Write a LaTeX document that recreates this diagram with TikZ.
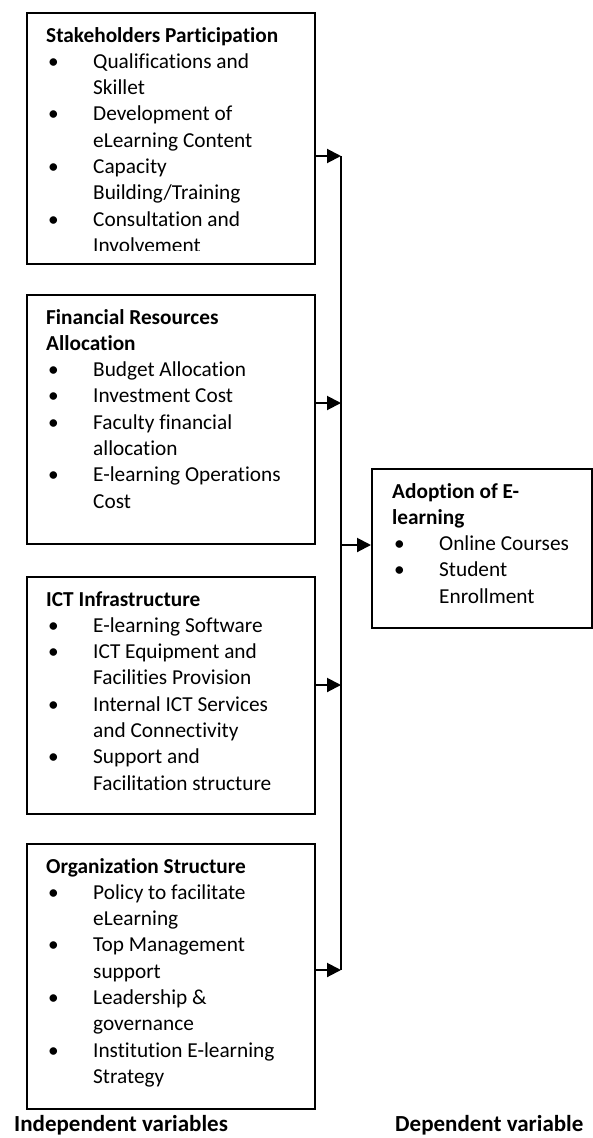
\documentclass[tikz,border=0pt]{standalone}
\usepackage{fontspec}
\setmainfont{Carlito}[Ligatures=NoCommon]
\usetikzlibrary{arrows.meta}
\newcommand{\itm}[1]{\makebox[47pt][l]{\hspace{2pt}\textbullet}#1}
\newcommand{\cnt}[1]{\hspace*{47pt}#1}
\newcommand{\boxtext}[2]{\parbox[t]{#1}{\raggedright\fontsize{21.3}{26.3}\selectfont #2}}
\tikzset{
  varbox/.style={draw=black, line width=1.5pt, anchor=north west, inner sep=0pt},
  boxlabel/.style={anchor=base west, inner sep=0pt},
  arr/.style={line width=2pt, -{Triangle[length=14pt,width=14pt]}},
  mainline/.style={line width=2pt},
  footlabel/.style={anchor=base west, inner sep=0pt, font=\fontsize{23}{26}\selectfont\bfseries}
}
\begin{document}
\begin{tikzpicture}[x=1pt,y=-1pt]
\useasboundingbox (0,0) rectangle (593,1138);
% boxes
\node[varbox, minimum width=288pt, minimum height=251pt] (b1) at (26,12) {};
\node[varbox, minimum width=288pt, minimum height=249pt] (b2) at (26,294) {};
\node[varbox, minimum width=288pt, minimum height=237pt] (b3) at (26,576) {};
\node[varbox, minimum width=288pt, minimum height=265pt] (b4) at (26,843) {};
\node[varbox, minimum width=220pt, minimum height=159pt] (ad) at (371,468) {};
% texts
\begin{scope}
\clip (26,12) rectangle (314,250);
\node[boxlabel] (t1) at (46,42) {\boxtext{265pt}{\textbf{Stakeholders Participation}\\
\itm{Qualifications and}\\ \cnt{Skillet}\\
\itm{Development of}\\ \cnt{eLearning Content}\\
\itm{Capacity}\\ \cnt{Building/Training}\\
\itm{Consultation and}\\ \cnt{Involvement}}};
\end{scope}
\node[boxlabel] (t2) at (46,324) {\boxtext{265pt}{\textbf{Financial Resources}\\ \textbf{Allocation}\\
\itm{Budget Allocation}\\
\itm{Investment Cost}\\
\itm{Faculty financial}\\ \cnt{allocation}\\
\itm{E-learning Operations}\\ \cnt{Cost}}};
\node[boxlabel] (t3) at (46,606) {\boxtext{265pt}{\textbf{ICT Infrastructure}\\
\itm{E-learning Software}\\
\itm{ICT Equipment and}\\ \cnt{Facilities Provision}\\
\itm{Internal ICT Services}\\ \cnt{and Connectivity}\\
\itm{Support and}\\ \cnt{Facilitation structure}}};
\node[boxlabel] (t4) at (46,873) {\boxtext{265pt}{\textbf{Organization Structure}\\
\itm{Policy to facilitate}\\ \cnt{eLearning}\\
\itm{Top Management}\\ \cnt{support}\\
\itm{Leadership \&}\\ \cnt{governance}\\
\itm{Institution E-learning}\\ \cnt{Strategy}}};
\node[boxlabel] (ta) at (392,498) {\boxtext{195pt}{\textbf{Adoption of E-}\\ \textbf{learning}\\
\itm{Online Courses}\\
\itm{Student}\\ \cnt{Enrollment}}};
% connectors
\coordinate (j1) at (341,156);
\coordinate (j2) at (341,403);
\coordinate (j3) at (341,685);
\coordinate (j4) at (341,970);
\coordinate (ja) at (341,545);
\draw[mainline] (j1) -- (j4);
\draw[arr] (j1 -| b1.east) -- (j1);
\draw[arr] (j2 -| b2.east) -- (j2);
\draw[arr] (j3 -| b3.east) -- (j3);
\draw[arr] (j4 -| b4.east) -- (j4);
\draw[arr] (ja) -- (ja -| ad.west);
% footer
\node[footlabel] (ind) at (14,1131) {Independent variables};
\node[footlabel] (dep) at (395,1131) {Dependent variable};
\end{tikzpicture}
\end{document}
